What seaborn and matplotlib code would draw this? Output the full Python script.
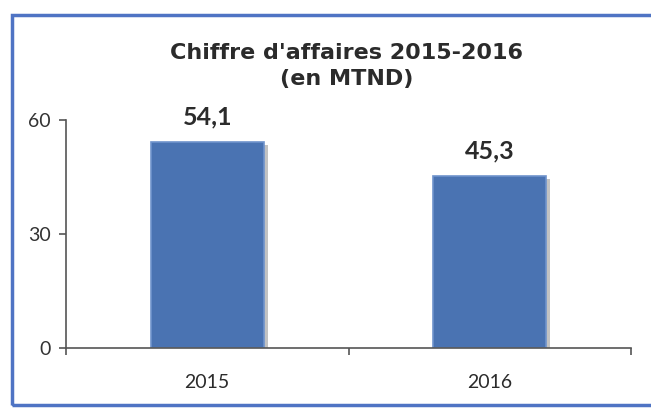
import matplotlib
matplotlib.use("Agg")
import matplotlib.pyplot as plt
import matplotlib.patheffects as pe
from matplotlib.patches import Rectangle
import seaborn as sns
import pandas as pd

# data
years = ["2015", "2016"]
ca_values = [54.1, 45.3]
value_labels = ["54,1", "45,3"]
y_ticks = [0, 30, 60]

df = pd.DataFrame({"annee": years, "ca": ca_values})

sns.set_theme(style="white")
plt.rcParams["font.family"] = ["Lato", "DejaVu Sans"]

fig = plt.figure(figsize=(6.51, 4.09), dpi=100)
ax = fig.add_axes([66 / 651, 1 - 348 / 409, 565 / 651, 228 / 409])

bar_color = "#4a73b2"
sns.barplot(data=df, x="annee", y="ca", color=bar_color, width=0.4,
            saturation=1, edgecolor="#6f93cc", linewidth=1.2, ax=ax)
for p in ax.patches:
    p.set_path_effects([pe.SimplePatchShadow(offset=(3, -2), shadow_rgbFace="#9a9a9a", alpha=0.6),
                        pe.Normal()])

ax.set_xlim(-0.5, 1.5)
ax.set_ylim(0, 60)
ax.set_yticks(y_ticks)
ax.set_xlabel("")
ax.set_ylabel("")

for i, (v, lab) in enumerate(zip(ca_values, value_labels)):
    ax.annotate(lab, (i, v), xytext=(0, 10), textcoords="offset points",
                ha="center", va="bottom", fontsize=18, fontweight="bold", color="#2b2b2b")

for s in ["top", "right"]:
    ax.spines[s].set_visible(False)
for s in ["left", "bottom"]:
    ax.spines[s].set_color("#555555")
    ax.spines[s].set_linewidth(1.2)

ax.tick_params(axis="y", left=True, direction="out", length=5, width=1.2, color="#555555",
               labelsize=14, labelcolor="#333333", pad=6)
ax.tick_params(axis="x", bottom=False, labelsize=14, labelcolor="#2b2b2b", pad=13)
# ticks between categories
ax.set_xticks([-0.5, 0.5, 1.5], minor=True)
ax.tick_params(axis="x", which="minor", bottom=True, direction="out", length=5, width=1.2,
               color="#555555")

fig.text(347 / 651, 1 - 66 / 409, "Chiffre d'affaires 2015-2016\n(en MTND)", ha="center", va="center",
         fontsize=16, fontweight="bold", color="#2b2b2b", family="DejaVu Sans", linespacing=1.35)

# blue frame (open on the right)
fig.patches.append(Rectangle((12 / 651, 4 / 409), 1.05, 1 - 19 / 409, transform=fig.transFigure,
                             fill=False, edgecolor="#4f74c4", linewidth=2.5))

fig.savefig("out.png", dpi=100)
